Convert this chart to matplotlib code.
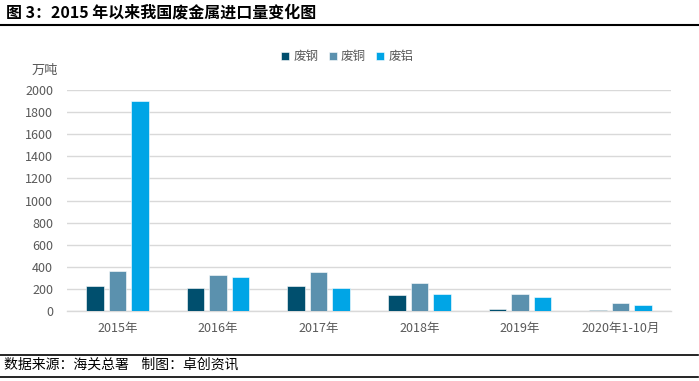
import numpy as np
import matplotlib.pyplot as plt

plt.rcParams['font.family'] = ['Noto Sans CJK SC', 'DejaVu Sans']
plt.rcParams['axes.unicode_minus'] = False

# 数据（万吨）
years = ['2015年', '2016年', '2017年', '2018年', '2019年', '2020年1-10月']
steel = [230, 211, 229, 145, 20, 12]
copper = [362, 326, 353, 253, 154, 76]
aluminum = [1898, 308, 211, 157, 127, 58]
series_names = ['废钢', '废铜', '废铝']
colors = ['#004F6E', '#5B91AE', '#00A5E6']

fig = plt.figure(figsize=(6.99, 3.81), dpi=100)

# 标题与上下框线
fig.text(0.008, 0.968, '图 3：2015 年以来我国废金属进口量变化图', fontsize=11.5,
         fontweight='bold', color='black', va='center', ha='left',
         family=['Noto Sans CJK SC', 'DejaVu Sans'])
fig.add_artist(plt.Line2D([0, 0.999], [1 - 25 / 381] * 2, color='black', lw=1.5))
fig.add_artist(plt.Line2D([0, 0.999], [1 - 355 / 381] * 2, color='black', lw=1.2))
fig.add_artist(plt.Line2D([0, 0.999], [1 - 377 / 381] * 2, color='black', lw=1.2))
fig.text(0.006, 1 - 365 / 381, '数据来源：海关总署    制图：卓创资讯', fontsize=10,
         color='black', va='center', ha='left')

ax = fig.add_axes([67 / 699, 70 / 381, 604 / 699, 221 / 381])
x = np.arange(len(years))
w = 0.174
off = 0.224
for i, (vals, name, c) in enumerate(zip([steel, copper, aluminum], series_names, colors)):
    ax.bar(x + (i - 1) * off, vals, width=w, color=c, label=name,
           edgecolor='white', linewidth=0.4, zorder=3)

ax.set_xlim(-0.5, len(years) - 0.5)
ax.set_ylim(0, 2000)
ax.set_yticks(np.arange(0, 2001, 200))
ax.set_xticks(x)
ax.set_xticklabels(years)
ax.tick_params(axis='both', length=0, labelsize=9, colors='#595959')
ax.tick_params(axis='y', pad=10)
ax.tick_params(axis='x', pad=8)
ax.grid(axis='y', color='#D9D9D9', linewidth=1, zorder=0)
for s in ['top', 'right', 'left']:
    ax.spines[s].set_visible(False)
ax.spines['bottom'].set_color('#D9D9D9')
ax.spines['bottom'].set_linewidth(1)

fig.text(45 / 699, 1 - 70 / 381, '万吨', fontsize=9.5, color='#595959',
         ha='center', va='center')

ax.legend(loc='center', bbox_to_anchor=(0.464, 1.15), ncol=3, frameon=False,
          fontsize=9, handlelength=0.65, handleheight=0.65, handletextpad=0.35,
          columnspacing=0.8, labelcolor='#595959')

fig.savefig('out.png', dpi=100)
